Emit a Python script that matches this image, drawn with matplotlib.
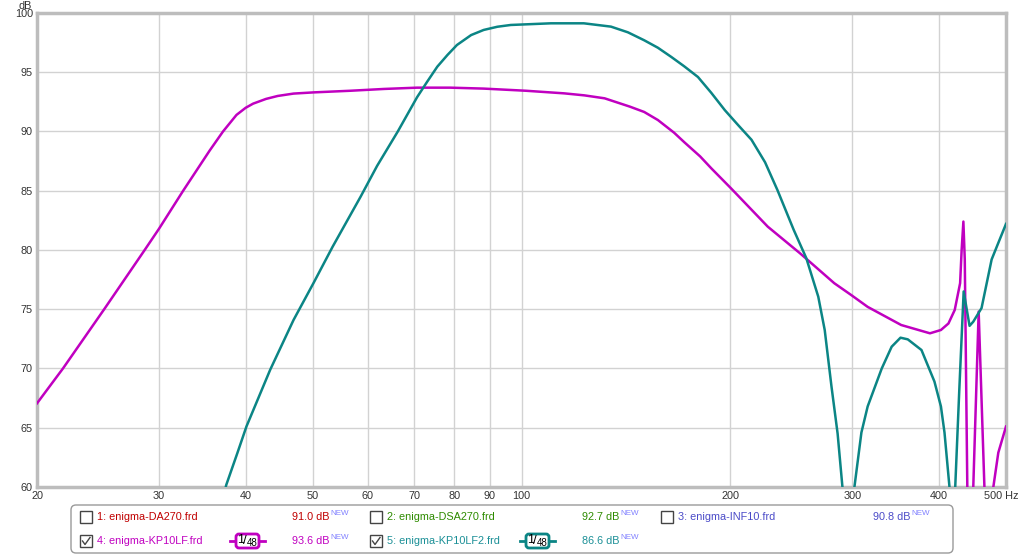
import matplotlib
matplotlib.use("Agg")
import matplotlib.pyplot as plt
from matplotlib.patches import Rectangle, FancyBboxPatch
from matplotlib.ticker import FixedLocator, NullLocator

plt.rcParams['font.family'] = ['Liberation Sans', 'DejaVu Sans']

# --- data (Hz, dB) ---
kp10lf_f = [20, 21.8, 25.0, 28.6, 30, 32.5, 35.5, 37.1, 38.8, 40, 41.0, 42.8, 44.5, 46.9, 50.1,
            56.7, 63.3, 70.7, 78.9, 88.2, 101.4, 115.2, 123.2, 131.8, 143.3, 150.3,
            157.3, 166, 171.7, 181, 187.8, 200.6, 226.6, 252.5, 282.6, 299, 315.8,
            353, 388.4, 402.8, 413, 421.7, 429.3, 431.5, 434, 436, 439.7, 444, 448.5,
            456.6, 465.4, 472, 479.4, 487.4, 499.4, 500]
kp10lf_db = [67.06, 70, 75, 80, 81.8, 85, 88.4, 90, 91.4, 92.0, 92.35, 92.75, 93.0, 93.2, 93.3,
             93.44, 93.59, 93.7, 93.7, 93.62, 93.44, 93.22, 93.05, 92.8, 92.1, 91.65,
             90.97, 89.9, 89.1, 87.9, 86.9, 85.2, 81.97, 79.7, 77.2, 76.2, 75.2,
             73.67, 72.97, 73.25, 73.8, 74.94, 77.2, 80.0, 82.4, 79.2, 60, 40, 60,
             74.8, 60, 40, 60, 62.9, 65.0, 65.1]

kp10lf2_f = [34, 37.5, 38.9, 40.1, 43.4, 46.9, 50.1, 53.4, 58.6, 61.9, 66.3, 70.7, 73.1,
             75.6, 78.2, 80.7, 84.6, 88.2, 92.3, 96.5, 110.3, 123, 134.6, 142.4, 150.3,
             157.3, 164.4, 171.7, 179.7, 187.8, 196.5, 205.3, 214.7, 224.6, 234, 247, 257.6,
             268, 273.8, 280, 285.8, 290.4, 296, 302.2, 309.3, 315.8, 330.9, 342,
             352.2, 360.8, 377.6, 394.2, 402.8, 407.6, 414.4, 418, 422.4, 428, 434.4,
             443, 448.5, 461, 476.7, 487.4, 500]
kp10lf2_db = [50, 60.17, 62.84, 65.1, 69.9, 74.1, 77.2, 80.28, 84.5, 87.1, 90.0, 92.9, 94.2,
              95.47, 96.46, 97.3, 98.14, 98.57, 98.84, 98.99, 99.13, 99.13, 98.85, 98.37, 97.7,
              97.07, 96.3, 95.5, 94.6, 93.27, 91.8, 90.55, 89.3, 87.4, 85.06, 81.7, 79.3,
              76.06, 73.25, 68.5, 64.5, 60, 40, 60, 64.6, 66.8, 70.0, 71.84,
              72.6, 72.46, 71.56, 68.9, 66.8, 64.6, 60, 40, 60, 68, 76.5,
              73.6, 73.95, 75.1, 79.2, 80.6, 82.2]

x_ticks = [20, 30, 40, 50, 60, 70, 80, 90, 100, 200, 300, 400, 500]
x_labels = ['20', '30', '40', '50', '60', '70', '80', '90', '100', '200', '300', '400', '']
y_ticks = [60, 65, 70, 75, 80, 85, 90, 95, 100]

legend_names = ['1: enigma-DA270.frd', '2: enigma-DSA270.frd', '3: enigma-INF10.frd',
                '4: enigma-KP10LF.frd', '5: enigma-KP10LF2.frd']
legend_levels = ['91.0 dB', '92.7 dB', '90.8 dB', '93.6 dB', '86.6 dB']
legend_colors = ['#c00000', '#2e8b00', '#4b4bc8', '#c000c0', '#1a8f96']
legend_checked = [False, False, False, True, True]

MAG = '#c000c0'
TEAL = '#0b8585'
GRID = '#d2d2d2'
TXT = '#333333'

fig = plt.figure(figsize=(10.24, 5.55), dpi=100)
ax = fig.add_axes([37/1024, 68/555, 969/1024, 474/555])

ax.plot(kp10lf_f, kp10lf_db, color=MAG, lw=1.8, zorder=3)
ax.plot(kp10lf2_f, kp10lf2_db, color=TEAL, lw=1.8, zorder=3)

ax.set_xscale('log')
ax.set_xlim(20, 500)
ax.set_ylim(60, 100)
ax.xaxis.set_major_locator(FixedLocator(x_ticks))
ax.xaxis.set_minor_locator(NullLocator())
ax.set_xticklabels(x_labels)
ax.set_yticks(y_ticks)
ax.set_yticklabels([str(v) for v in y_ticks])
ax.tick_params(length=0, labelsize=7.8, colors=TXT, pad=3)
ax.grid(True, color=GRID, lw=1)
for s in ax.spines.values():
    s.set_color('#bdbdbd')
    s.set_linewidth(2.5)

# overlay in pixel coords for labels and legend
ov = fig.add_axes([0, 0, 1, 1])
ov.set_xlim(0, 1024)
ov.set_ylim(555, 0)
ov.axis('off')

ov.text(32, 9, 'dB', ha='right', va='baseline', fontsize=7.8, color=TXT)
ov.text(1019, 496, '500 Hz', ha='right', va='center', fontsize=7.8, color=TXT)

ov.add_patch(FancyBboxPatch((71, 505), 882, 48, boxstyle='round,pad=0,rounding_size=5',
                            fc='white', ec='#9a9a9a', lw=1))

cols = [80, 370, 661]
rows = [517, 541]
for i, name in enumerate(legend_names):
    r, c = divmod(i, 3)
    x0, y0 = cols[c], rows[r]
    ov.add_patch(Rectangle((x0, y0 - 6), 12, 12, fc='white', ec='#444444', lw=1))
    if legend_checked[i]:
        ov.plot([x0 + 2.5, x0 + 5, x0 + 10], [y0, y0 + 3.5, y0 - 3.5], color='#444444', lw=1)
    ov.text(x0 + 17, y0, name, ha='left', va='center', fontsize=7.8, color=legend_colors[i])
    t = ov.text(x0 + 212, y0, legend_levels[i], ha='left', va='center', fontsize=7.8,
                color=legend_colors[i])
    ov.annotate('NEW', xy=(1, 1), xycoords=t, xytext=(0.5, 1.5), textcoords='offset points',
                ha='left', va='top', fontsize=5.8, color='#8080ff')
    if legend_checked[i]:
        cx = x0 + 167
        ec = MAG if i == 3 else TEAL
        ov.plot([cx - 17, cx + 18], [y0, y0], color=ec, lw=2)
        ov.add_patch(FancyBboxPatch((cx - 11, y0 - 7), 23, 14,
                                    boxstyle='round,pad=0,rounding_size=3',
                                    fc='white', ec=ec, lw=2, zorder=4))
        ov.text(cx - 6.5, y0 - 1, '1', ha='center', va='center', fontsize=9, color='black', zorder=5)
        ov.text(cx - 2.5, y0, '/', ha='center', va='center', fontsize=9.5, color='black', zorder=5)
        ov.text(cx + 5, y0 + 2, '48', ha='center', va='center', fontsize=7, color='black', zorder=5)

fig.savefig('out.png', dpi=100)
